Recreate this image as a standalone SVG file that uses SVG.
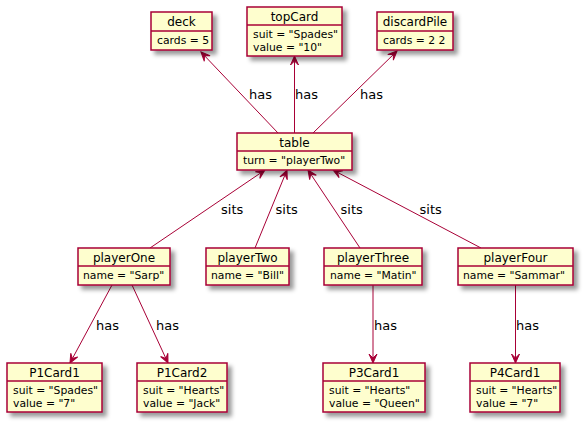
<svg xmlns="http://www.w3.org/2000/svg" width="586" height="425" viewBox="0 0 586 425">
<defs>
<filter id="sh" x="-1" y="-1" width="300%" height="300%">
<feGaussianBlur result="b1" stdDeviation="2"/>
<feColorMatrix in="b1" result="b2" type="matrix" values="0 0 0 0 0 0 0 0 0 0 0 0 0 0 0 0 0 0 .4 0"/>
<feOffset dx="4" dy="4" in="b2" result="b3"/>
<feBlend in="SourceGraphic" in2="b3" mode="normal"/>
</filter>
<marker id="ah" viewBox="-10 -5 12 10" refX="0" refY="0" markerWidth="12" markerHeight="10" markerUnits="userSpaceOnUse" orient="auto" overflow="visible">
<path d="M0,0 L-9,-4 L-5,0 L-9,4 Z" fill="#A80036" stroke="#A80036" stroke-width="1"/>
</marker>
</defs>
<style>
.box{fill:#FEFECE;stroke:#A80036;stroke-width:1.5;filter:url(#sh)}
.div{stroke:#A80036;stroke-width:1.5}
.nm{font-family:"DejaVu Sans",sans-serif;font-size:12px;fill:#000;text-anchor:middle}
.at{font-family:"DejaVu Sans",sans-serif;font-size:10.8px;fill:#000}
.lb{font-family:"DejaVu Sans",sans-serif;font-size:13px;fill:#000}
.cn{stroke:#A80036;stroke-width:1;fill:none;marker-end:url(#ah)}
</style>
<g id="connectors">
<line class="cn" x1="278" y1="133" x2="201" y2="52"/>
<line class="cn" x1="294.5" y1="133" x2="294.5" y2="56"/>
<line class="cn" x1="313" y1="133" x2="397" y2="51"/>
<line class="cn" x1="150" y1="248" x2="265" y2="170"/>
<line class="cn" x1="255" y1="248" x2="287" y2="170"/>
<line class="cn" x1="360" y1="248" x2="308" y2="170"/>
<line class="cn" x1="481" y1="248" x2="333" y2="170"/>
<line class="cn" x1="112" y1="285" x2="70" y2="363"/>
<line class="cn" x1="132" y1="285" x2="168" y2="363"/>
<line class="cn" x1="373" y1="285" x2="373" y2="363"/>
<line class="cn" x1="515.5" y1="285" x2="515.5" y2="363"/>
<text class="lb" x="249" y="98.5">has</text>
<text class="lb" x="295" y="98.5">has</text>
<text class="lb" x="360" y="98.5">has</text>
<text class="lb" x="221" y="213.5">sits</text>
<text class="lb" x="275.5" y="213.5">sits</text>
<text class="lb" x="340.5" y="213.5">sits</text>
<text class="lb" x="419.5" y="213.5">sits</text>
<text class="lb" x="96" y="329.5">has</text>
<text class="lb" x="156" y="329.5">has</text>
<text class="lb" x="374" y="329.5">has</text>
<text class="lb" x="516" y="329.5">has</text>
</g>
<g id="deck">
<rect class="box" x="151" y="12" width="61" height="38"/>
<line class="div" x1="151" y1="31" x2="212" y2="31"/>
<text class="nm" x="181.5" y="26">deck</text>
<text class="at" x="157" y="44">cards = 5</text>
</g>
<g id="topCard">
<rect class="box" x="247" y="7" width="95" height="49"/>
<line class="div" x1="247" y1="25" x2="342" y2="25"/>
<text class="nm" x="294.5" y="21">topCard</text>
<text class="at" x="253" y="38">suit = "Spades"</text>
<text class="at" x="253" y="51">value = "10"</text>
</g>
<g id="discardPile">
<rect class="box" x="377" y="12" width="76" height="38"/>
<line class="div" x1="377" y1="31" x2="453" y2="31"/>
<text class="nm" x="415" y="26">discardPile</text>
<text class="at" x="383" y="44">cards = 2 2</text>
</g>
<g id="table">
<rect class="box" x="237" y="133" width="115" height="37"/>
<line class="div" x1="237" y1="151" x2="352" y2="151"/>
<text class="nm" x="294.5" y="147">table</text>
<text class="at" x="243" y="164">turn = "playerTwo"</text>
</g>
<g id="playerOne">
<rect class="box" x="78" y="248" width="92" height="37"/>
<line class="div" x1="78" y1="266" x2="170" y2="266"/>
<text class="nm" x="124" y="262">playerOne</text>
<text class="at" x="83" y="279">name = "Sarp"</text>
</g>
<g id="playerTwo">
<rect class="box" x="206" y="248" width="83" height="37"/>
<line class="div" x1="206" y1="266" x2="289" y2="266"/>
<text class="nm" x="247.5" y="262">playerTwo</text>
<text class="at" x="211" y="279">name = "Bill"</text>
</g>
<g id="playerThree">
<rect class="box" x="324" y="248" width="98" height="37"/>
<line class="div" x1="324" y1="266" x2="422" y2="266"/>
<text class="nm" x="373" y="262">playerThree</text>
<text class="at" x="330" y="279">name = "Matin"</text>
</g>
<g id="playerFour">
<rect class="box" x="458" y="248" width="115" height="37"/>
<line class="div" x1="458" y1="266" x2="573" y2="266"/>
<text class="nm" x="515.5" y="262">playerFour</text>
<text class="at" x="463" y="279">name = "Sammar"</text>
</g>
<g id="P1Card1">
<rect class="box" x="7" y="363" width="95" height="49"/>
<line class="div" x1="7" y1="381" x2="102" y2="381"/>
<text class="nm" x="54.5" y="377">P1Card1</text>
<text class="at" x="13" y="394">suit = "Spades"</text>
<text class="at" x="13" y="407">value = "7"</text>
</g>
<g id="P1Card2">
<rect class="box" x="137" y="363" width="90" height="49"/>
<line class="div" x1="137" y1="381" x2="227" y2="381"/>
<text class="nm" x="182" y="377">P1Card2</text>
<text class="at" x="143" y="394">suit = "Hearts"</text>
<text class="at" x="143" y="407">value = "Jack"</text>
</g>
<g id="P3Card1">
<rect class="box" x="323" y="363" width="102" height="49"/>
<line class="div" x1="323" y1="381" x2="425" y2="381"/>
<text class="nm" x="374" y="377">P3Card1</text>
<text class="at" x="329" y="394">suit = "Hearts"</text>
<text class="at" x="329" y="407">value = "Queen"</text>
</g>
<g id="P4Card1">
<rect class="box" x="470" y="363" width="90" height="49"/>
<line class="div" x1="470" y1="381" x2="560" y2="381"/>
<text class="nm" x="515" y="377">P4Card1</text>
<text class="at" x="476" y="394">suit = "Hearts"</text>
<text class="at" x="476" y="407">value = "7"</text>
</g>
</svg>
